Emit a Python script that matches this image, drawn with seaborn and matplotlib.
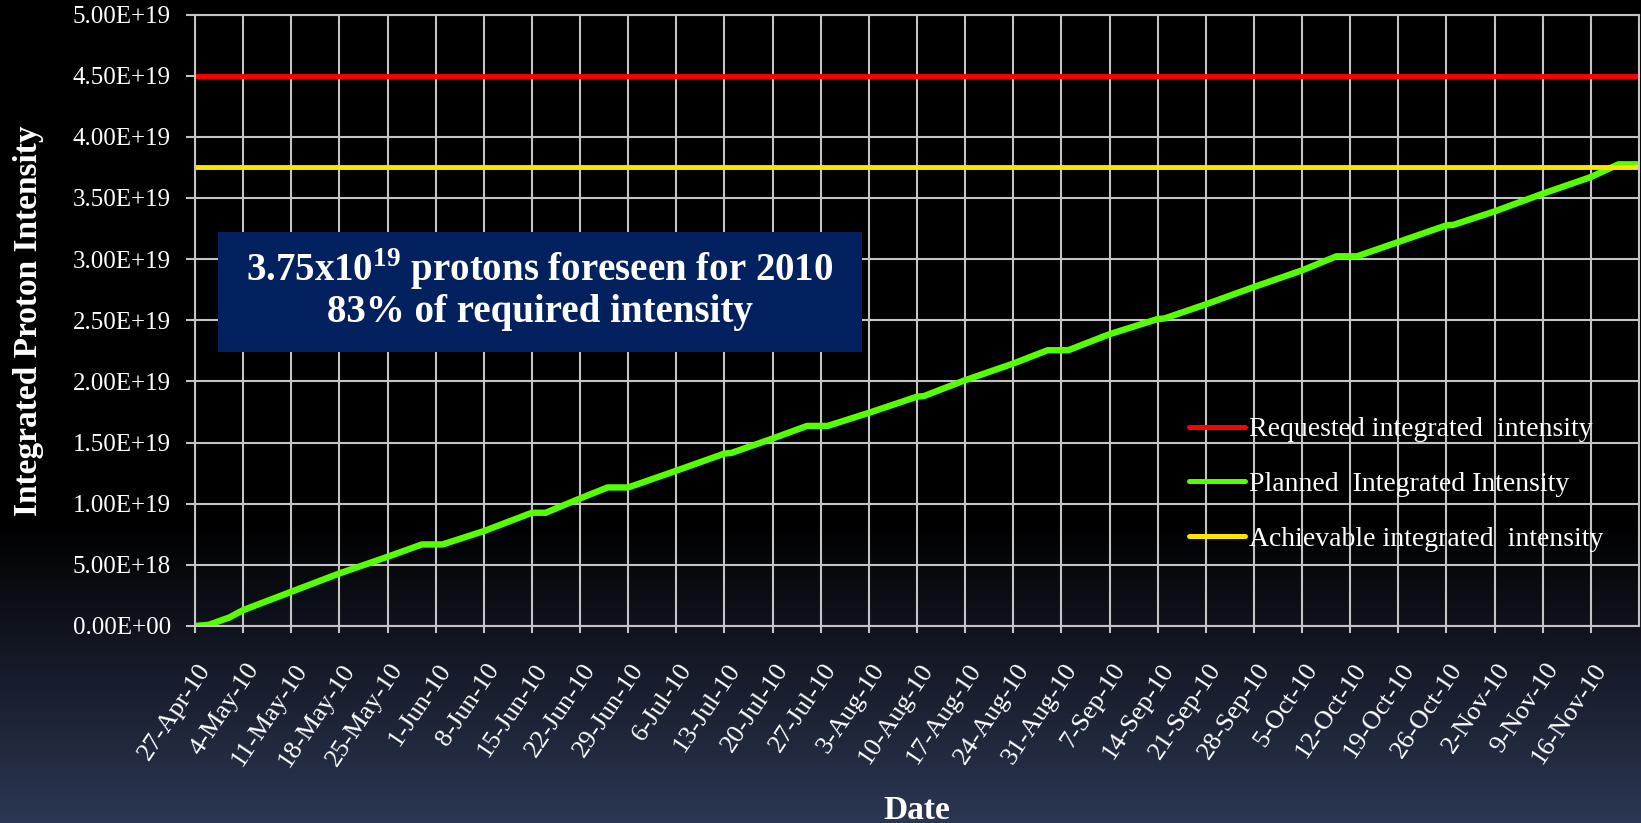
import numpy as np
import pandas as pd
import matplotlib
matplotlib.use("Agg")
import matplotlib.pyplot as plt
import matplotlib.dates as mdates
import matplotlib.transforms as mtransforms
from matplotlib.patches import Rectangle
from matplotlib.ticker import FuncFormatter, FixedLocator
import seaborn as sns

# Planned integrated proton intensity (x1e19) at the breakpoints of the 2010 schedule
plan_dates = [
    "2010-04-27", "2010-04-29", "2010-05-02", "2010-05-04", "2010-05-11",
    "2010-05-18", "2010-05-25", "2010-05-30", "2010-06-02", "2010-06-08",
    "2010-06-15", "2010-06-17", "2010-06-22", "2010-06-26", "2010-06-29",
    "2010-07-06", "2010-07-13", "2010-07-14", "2010-07-20", "2010-07-25",
    "2010-07-28", "2010-08-03", "2010-08-10", "2010-08-11", "2010-08-17",
    "2010-08-24", "2010-08-29", "2010-09-01", "2010-09-07", "2010-09-14",
    "2010-09-15", "2010-09-21", "2010-09-28", "2010-10-05", "2010-10-10",
    "2010-10-13", "2010-10-19", "2010-10-26", "2010-10-27", "2010-11-02",
    "2010-11-09", "2010-11-16", "2010-11-20", "2010-11-23",
]
plan_values = [
    0.000, 0.010, 0.070, 0.130, 0.280,
    0.430, 0.566, 0.667, 0.667, 0.776,
    0.926, 0.926, 1.043, 1.133, 1.133,
    1.270, 1.410, 1.415, 1.533, 1.636,
    1.636, 1.743, 1.875, 1.880, 2.010,
    2.146, 2.255, 2.255, 2.386, 2.510,
    2.515, 2.630, 2.772, 2.908, 3.023,
    3.023, 3.140, 3.276, 3.280, 3.390,
    3.535, 3.671, 3.775, 3.775,
]
requested_level = 4.50   # x1e19
achievable_level = 3.75  # x1e19

series_labels = [
    "Requested integrated  intensity",
    "Planned  Integrated Intensity",
    "Achievable integrated  intensity",
]
series_colors = ["#FF0000", "#55FF00", "#FFE400"]

y_ticks = [0.0, 0.5e19, 1.0e19, 1.5e19, 2.0e19, 2.5e19, 3.0e19, 3.5e19, 4.0e19, 4.5e19, 5.0e19]
x_tick_dates = pd.date_range("2010-04-27", "2010-11-16", freq="7D")
x_start, x_end = "2010-04-27", "2010-11-23"

note_lines = [r"3.75x10$^{\mathbf{19}}$ protons foreseen for 2010", "83% of required intensity"]

# ---------------------------------------------------------------- style
sns.set_theme(style="dark")
plt.rcParams["font.family"] = ["Liberation Serif", "DejaVu Serif"]
plt.rcParams["mathtext.fontset"] = "custom"
plt.rcParams["mathtext.rm"] = "Liberation Serif"
plt.rcParams["mathtext.bf"] = "Liberation Serif:bold"

W, H, DPI = 1641, 823, 100
fig = plt.figure(figsize=(W / DPI, H / DPI), dpi=DPI)
fig.patch.set_facecolor("black")

# vertical backdrop: black fading to slate blue at the bottom
bg = fig.add_axes([0, 0, 1, 1], zorder=-10)
rows = np.arange(H)
t = np.clip((rows - 520) / (H - 520), 0, 1)
top_c = np.array([0, 0, 0]) / 255
bot_c = np.array([0x2c, 0x37, 0x53]) / 255
grad = top_c[None, :] * (1 - t[:, None]) + bot_c[None, :] * t[:, None]
bg.imshow(grad[:, None, :], aspect="auto", extent=[0, 1, 0, 1], origin="upper")
bg.axis("off")

L, R, T, B = 195, 1639, 14.5, 626
ax = fig.add_axes([L / W, 1 - B / H, (R - L) / W, (B - T) / H])
ax.set_facecolor("none")

# ---------------------------------------------------------------- data
dates = pd.to_datetime(plan_dates)
planned = pd.DataFrame({"date": dates, "value": np.array(plan_values) * 1e19})
flat_dates = pd.to_datetime([x_start, x_end])
requested = pd.DataFrame({"date": flat_dates, "value": [requested_level * 1e19] * 2})
achievable = pd.DataFrame({"date": flat_dates, "value": [achievable_level * 1e19] * 2})

sns.lineplot(data=requested, x="date", y="value", ax=ax, color=series_colors[0],
             linewidth=3.5, label=series_labels[0], solid_capstyle="round")
sns.lineplot(data=planned, x="date", y="value", ax=ax, color=series_colors[1],
             linewidth=4.6, label=series_labels[1], solid_capstyle="round",
             solid_joinstyle="round")
sns.lineplot(data=achievable, x="date", y="value", ax=ax, color=series_colors[2],
             linewidth=3.5, label=series_labels[2], solid_capstyle="round")

# ---------------------------------------------------------------- axes
grid_c = "#c4c4c4"
ax.set_xlim(pd.Timestamp(x_start), pd.Timestamp(x_end))
ax.set_ylim(0, 5.0e19)
ax.yaxis.set_major_locator(FixedLocator(y_ticks))
ax.yaxis.set_major_formatter(FuncFormatter(lambda v, p: f"{v:.2E}"))
ax.xaxis.set_major_locator(FixedLocator(mdates.date2num(x_tick_dates)))
ax.xaxis.set_major_formatter(FuncFormatter(
    lambda v, p: (lambda d: f"{d.day}-{d:%b}-{d:%y}")(mdates.num2date(v))))

ax.grid(True, color=grid_c, linewidth=1.5)
ax.set_axisbelow(True)
for s in ax.spines.values():
    s.set_visible(True)
    s.set_color(grid_c)
    s.set_linewidth(1.5)

ax.tick_params(axis="y", which="major", direction="out", length=6.5, width=1.5,
               color=grid_c, labelcolor="white", labelsize=18, pad=11, left=True)
ax.tick_params(axis="x", which="major", direction="out", length=5, width=1.5,
               color=grid_c, labelcolor="white", labelsize=19, pad=26, bottom=True)

shift = mtransforms.ScaledTranslation(16 / DPI, 0, fig.dpi_scale_trans)
for lab in ax.get_xticklabels():
    lab.set_rotation(56)
    lab.set_ha("right")
    lab.set_va("baseline")
    lab.set_rotation_mode("anchor")
    lab.set_transform(lab.get_transform() + shift)

ax.set_xlabel("Date", fontsize=24, fontweight="bold", color="white")
ax.set_ylabel("Integrated Proton Intensity", fontsize=24, fontweight="bold", color="white")
ax.xaxis.set_label_coords(0.5, (B - 795) / (B - T))
ax.yaxis.set_label_coords((44 - L) / (R - L), 0.5)

leg = ax.legend(loc="upper left", bbox_to_anchor=(1189 / W, 1 - 417 / H),
                bbox_transform=fig.transFigure, frameon=False, fontsize=20,
                handlelength=2.0, handletextpad=0.15, labelspacing=1.05,
                borderpad=0, borderaxespad=0)
for txt in leg.get_texts():
    txt.set_color("white")
for ln in leg.get_lines():
    ln.set_linewidth(3.6)
    ln.set_solid_capstyle("round")

# ---------------------------------------------------------------- note box
bx0, bx1, by0, by1 = 218, 862, 232, 352
fig.add_artist(Rectangle((bx0 / W, 1 - by1 / H), (bx1 - bx0) / W, (by1 - by0) / H,
                         transform=fig.transFigure, facecolor="#03205F",
                         edgecolor="none", zorder=2))
cx = (bx0 + bx1) / 2 / W
fig.text(cx, 1 - 269 / H, note_lines[0], ha="center", va="center", color="white",
         fontsize=28, fontweight="bold", zorder=3)
fig.text(cx, 1 - 312 / H, note_lines[1], ha="center", va="center", color="white",
         fontsize=28, fontweight="bold", zorder=3)

fig.savefig("out.png", dpi=DPI, facecolor=fig.get_facecolor())
